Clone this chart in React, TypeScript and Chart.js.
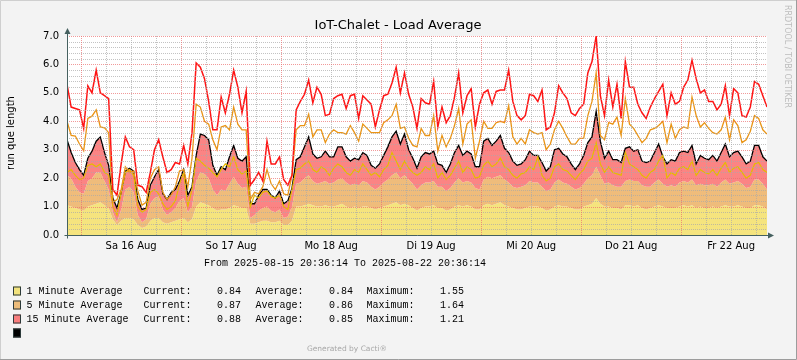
import { useEffect, useRef } from 'react';
import { Chart, registerables } from 'chart.js';

Chart.register(...registerables);

// ---- data (hours since 2025-08-15 20:36:14, one value per hour) ----
const titleText = 'IoT-Chalet - Load Average';
const yAxisTitle = 'run que length';
const firstMidnight = 3.396; // hours from start to 16 Aug 00:00
const xTickLabels = ['Sa 16 Aug', 'So 17 Aug', 'Mo 18 Aug', 'Di 19 Aug', 'Mi 20 Aug', 'Do 21 Aug', 'Fr 22 Aug'];
const legendLabels = ['1 Minute Average', '5 Minute Average', '15 Minute Average'];
const legendCurrent = ['0.84', '0.87', '0.88'];
const legendAverage = ['0.84', '0.86', '0.85'];
const legendMaximum = ['1.55', '1.64', '1.21'];
const fromText = 'From 2025-08-15 20:36:14 To 2025-08-22 20:36:14';

// top of 1-minute area
const yellowArea = [
  1.05, 1.0, 0.95, 0.9, 0.85, 1.0, 1.05, 1.1, 1.15, 1.05,
  0.95, 0.55, 0.35, 0.5, 0.6, 0.6, 0.55, 0.35, 0.25, 0.3,
  0.5, 0.6, 0.6, 0.45, 0.4, 0.45, 0.5, 0.55, 0.6, 0.45,
  0.55, 1.0, 1.15, 1.1, 1.05, 0.95, 0.85, 0.9, 0.9, 0.95,
  1.05, 1.0, 0.95, 0.95, 0.4, 0.4, 0.45, 0.5, 0.5, 0.45,
  0.45, 0.5, 0.35, 0.35, 0.5, 1.0, 1.0, 1.05, 1.1, 1.05,
  1.0, 1.0, 1.05, 1.0, 1.0, 1.05, 1.1, 1.0, 0.95, 1.0,
  0.95, 1.0, 1.0, 0.95, 0.9, 0.95, 1.0, 1.05, 1.1, 1.15,
  1.05, 1.1, 1.05, 0.95, 0.85, 0.95, 1.0, 1.0, 1.05, 0.95,
  0.95, 0.85, 0.9, 1.0, 1.05, 1.0, 1.05, 1.0, 0.9, 0.9,
  1.05, 1.1, 1.05, 1.1, 1.15, 1.05, 1.0, 0.95, 0.9, 0.9,
  0.95, 1.0, 1.0, 1.0, 0.95, 0.85, 0.9, 1.0, 1.05, 1.0,
  1.0, 0.95, 0.9, 0.9, 1.0, 1.05, 1.1, 1.3, 1.1, 1.0,
  1.0, 0.95, 0.95, 0.9, 1.05, 1.05, 1.0, 1.05, 0.95, 0.9,
  0.95, 1.0, 1.05, 1.0, 0.95, 0.95, 0.95, 1.0, 1.05, 1.0,
  1.05, 0.95, 1.0, 0.95, 0.95, 1.0, 0.95, 1.0, 1.05, 1.0,
  1.0, 1.05, 1.0, 0.95, 0.95, 1.05, 1.05, 1.0, 0.9,
];

// top of 5-minute area (stacked)
const orangeArea = [
  2.1, 2.0, 1.7, 1.5, 1.45, 1.9, 2.0, 2.2, 2.2, 1.9,
  1.6, 0.8, 0.45, 0.9, 1.6, 1.7, 1.5, 0.7, 0.45, 0.55,
  1.1, 1.3, 1.35, 0.9, 0.7, 0.8, 0.95, 1.2, 1.3, 0.8,
  1.0, 1.9, 2.2, 2.15, 2.0, 1.6, 1.4, 1.6, 1.55, 1.8,
  2.05, 1.8, 1.65, 1.7, 0.6, 0.7, 0.85, 0.95, 1.0, 0.85,
  0.8, 0.9, 0.6, 0.65, 1.0, 1.8, 1.85, 2.0, 2.1, 1.9,
  1.8, 1.85, 1.9, 1.8, 1.85, 1.95, 2.0, 1.85, 1.75, 1.8,
  1.75, 1.9, 1.85, 1.7, 1.6, 1.7, 1.85, 1.95, 2.1, 2.2,
  2.0, 2.1, 1.95, 1.8, 1.6, 1.75, 1.85, 1.85, 1.9, 1.7,
  1.7, 1.55, 1.65, 1.85, 2.0, 1.85, 1.9, 1.85, 1.65, 1.6,
  1.95, 2.05, 2.0, 2.05, 2.1, 1.95, 1.85, 1.7, 1.65, 1.7,
  1.75, 1.9, 1.85, 1.85, 1.7, 1.55, 1.6, 1.85, 1.95, 1.85,
  1.8, 1.7, 1.6, 1.65, 1.8, 2.0, 2.1, 2.4, 2.1, 1.8,
  1.85, 1.75, 1.7, 1.7, 1.9, 1.95, 1.9, 1.9, 1.75, 1.7,
  1.7, 1.85, 1.95, 1.8, 1.7, 1.75, 1.7, 1.85, 1.9, 1.85,
  1.95, 1.75, 1.8, 1.75, 1.75, 1.8, 1.7, 1.85, 1.95, 1.8,
  1.85, 1.9, 1.8, 1.65, 1.7, 1.95, 1.95, 1.8, 1.6,
];

// top of 15-minute area (stacked total, black outline)
const totalArea = [
  3.35, 2.9, 2.55, 2.3, 2.1, 2.7, 2.95, 3.3, 3.45, 2.9,
  2.45, 1.3, 0.95, 1.5, 2.25, 2.35, 2.25, 1.25, 0.9, 0.95,
  1.75, 2.05, 2.3, 1.45, 1.25, 1.5, 1.6, 1.9, 2.3, 1.4,
  1.7, 2.8, 3.55, 3.5, 3.35, 2.45, 2.1, 2.4, 2.3, 2.75,
  3.15, 2.7, 2.6, 2.75, 1.1, 1.1, 1.4, 1.6, 1.6, 1.4,
  1.3, 1.55, 1.1, 1.2, 1.65, 2.65, 2.75, 3.1, 3.45, 2.85,
  2.7, 2.75, 2.95, 2.75, 2.75, 3.1, 3.1, 2.75, 2.6, 2.7,
  2.65, 2.9, 2.8, 2.45, 2.35, 2.5, 2.8, 3.1, 3.45, 3.65,
  3.2, 3.55, 3.0, 2.7, 2.35, 2.75, 2.9, 2.85, 2.95, 2.5,
  2.45, 2.2, 2.5, 2.9, 3.15, 2.8, 2.95, 2.85, 2.4, 2.4,
  3.3, 3.4, 3.15, 3.3, 3.5, 3.05, 2.9, 2.6, 2.45, 2.5,
  2.65, 2.95, 2.8, 2.8, 2.55, 2.25, 2.4, 3.0, 3.05, 2.85,
  2.75, 2.5, 2.3, 2.5, 2.8, 3.25, 3.45, 4.35, 3.3, 2.7,
  2.95, 2.65, 2.65, 2.55, 3.05, 3.1, 2.95, 3.0, 2.6, 2.55,
  2.6, 2.9, 3.2, 2.75, 2.5, 2.65, 2.6, 2.9, 2.95, 2.9,
  3.15, 2.5, 2.8, 2.7, 2.65, 2.8, 2.6, 2.9, 3.2, 2.75,
  2.9, 2.95, 2.75, 2.5, 2.6, 3.15, 3.15, 2.75, 2.6,
];

const goldLine = [
  2.2, 2.3, 2.1, 1.95, 2.0, 2.45, 2.5, 2.4, 2.5, 2.2,
  2.1, 1.0, 0.7, 1.5, 2.2, 2.3, 2.1, 1.0, 0.8, 0.9,
  1.5, 1.6, 1.45, 1.1, 0.9, 1.0, 1.2, 1.8, 2.2, 1.0,
  1.6, 2.7, 2.6, 2.45, 2.35, 2.2, 2.05, 2.3, 2.5, 2.4,
  2.75, 2.3, 2.15, 2.25, 1.0, 1.4, 1.3, 1.5, 1.55, 1.35,
  1.3, 1.4, 1.0, 0.9, 1.6, 2.3, 2.35, 2.5, 2.6, 2.3,
  2.2, 2.4, 2.3, 2.1, 2.35, 2.5, 2.4, 2.2, 2.1, 2.3,
  2.2, 2.5, 2.3, 2.1, 2.2, 2.05, 2.3, 2.45, 2.9, 2.6,
  2.3, 2.6, 2.35, 2.2, 2.1, 2.2, 2.4, 2.3, 2.5, 2.0,
  2.2, 1.95, 2.1, 2.35, 2.6, 2.2, 2.4, 2.3, 2.0, 2.05,
  2.45, 2.6, 2.4, 2.5, 2.7, 2.4, 2.3, 2.1, 2.0, 2.15,
  2.2, 2.4, 2.3, 2.75, 2.1, 1.9, 2.0, 2.4, 2.5, 2.3,
  2.25, 2.1, 1.95, 2.15, 2.3, 2.6, 2.7, 3.25, 2.5, 2.2,
  2.4, 2.2, 2.15, 2.1, 2.9, 2.5, 2.4, 2.3, 2.1, 2.0,
  2.2, 2.3, 2.6, 2.8, 2.0, 2.2, 2.1, 2.35, 2.4, 2.3,
  2.6, 2.1, 2.3, 2.2, 2.15, 2.3, 2.1, 2.35, 2.55, 2.2,
  2.35, 2.4, 2.2, 2.0, 2.1, 2.5, 2.55, 2.3, 2.2,
];

const orangeLine = [
  4.0, 3.5, 3.48, 3.2, 2.96, 4.1, 4.18, 4.4, 3.8, 3.77,
  3.6, 1.15, 1.25, 1.6, 2.4, 2.2, 2.25, 1.55, 1.05, 1.15,
  2.0, 2.3, 2.4, 1.5, 1.25, 1.4, 1.7, 2.25, 2.3, 1.7,
  2.7, 4.6, 4.5, 4.0, 3.9, 3.35, 3.0, 3.8, 3.85, 3.7,
  4.5, 3.9, 3.7, 3.7, 1.25, 1.5, 1.45, 1.7, 2.3, 1.8,
  1.6, 1.9, 1.45, 1.4, 2.1, 3.7, 3.85, 3.85, 4.25, 3.45,
  3.7, 3.7, 3.25, 3.55, 3.7, 3.6, 3.6, 3.55, 3.85, 3.6,
  3.3, 3.9, 3.75, 3.6, 3.6, 3.6, 3.95, 4.05, 4.2, 4.6,
  3.75, 3.8, 3.4, 3.15, 3.1, 3.75, 3.5, 3.5, 4.2, 2.95,
  3.5, 3.1, 3.4, 3.85, 4.45, 3.2, 3.9, 4.05, 2.7, 3.3,
  4.0, 3.75, 3.75, 3.95, 4.0, 3.95, 4.55, 3.45, 3.2, 3.4,
  3.2, 3.7, 3.6, 3.55, 3.6, 3.0, 3.2, 3.7, 4.0, 3.75,
  3.45, 3.2, 3.2, 3.4, 3.4, 4.2, 4.7, 5.7, 3.5, 3.35,
  3.95, 3.9, 4.15, 3.5, 4.8, 3.9, 3.75, 3.5, 3.25, 3.4,
  3.7, 3.75, 3.85, 4.0, 3.25, 3.9, 3.4, 3.7, 3.8, 3.75,
  4.85, 4.2, 3.8, 3.95, 3.75, 3.6, 3.55, 3.7, 4.15, 3.35,
  4.05, 3.85, 3.25, 3.35, 3.65, 4.2, 4.1, 3.7, 3.55,
];

const redLine = [
  5.3, 4.5, 4.45, 4.4, 3.75, 5.25, 5.0, 5.8, 5.0, 4.9,
  4.8, 1.6, 1.4, 2.5, 3.45, 3.1, 3.0, 1.75, 1.7, 1.5,
  2.2, 3.0, 3.35, 2.75, 2.2, 2.3, 2.55, 2.5, 3.15, 2.5,
  3.6, 6.05, 5.9, 5.5, 4.7, 3.7, 3.7, 4.85, 4.3, 4.95,
  5.8, 5.2, 4.3, 5.05, 1.75, 1.95, 2.2, 1.9, 3.3, 2.5,
  2.5, 2.75, 1.95, 1.75, 2.1, 4.4, 4.7, 4.95, 5.45, 4.65,
  5.2, 4.95, 4.2, 4.25, 4.8, 4.9, 4.95, 4.45, 4.9, 4.95,
  4.1, 4.9, 4.75, 4.6, 3.8, 4.4, 4.9, 4.95, 5.35, 5.9,
  5.0, 5.7, 4.95, 4.5, 3.75, 4.8, 4.65, 4.6, 5.4, 3.8,
  4.5, 3.95, 4.2, 4.85, 5.7, 4.3, 4.9, 5.15, 3.8, 4.6,
  5.0, 5.1, 4.6, 5.05, 5.1, 5.1, 5.8, 4.7, 4.2, 4.05,
  4.2, 4.95, 4.9, 4.7, 5.1, 3.7, 3.8, 4.3, 5.25, 5.0,
  4.8, 4.3, 4.2, 4.45, 4.6, 5.7, 6.1, 7.0, 4.9, 4.2,
  5.45, 4.5, 5.3, 4.1, 6.1, 5.2, 5.2, 4.6, 4.3, 4.1,
  4.5, 4.8, 5.05, 5.3, 4.2, 5.0, 4.6, 4.7, 5.2, 5.45,
  6.15, 5.5, 5.0, 5.1, 4.7, 4.7, 4.4, 4.6, 5.25, 4.2,
  5.15, 5.0, 4.2, 4.15, 4.5, 5.4, 5.3, 4.9, 4.5,
];

const hours = yellowArea.map((_, i) => i);

// grid positions
const xGridValues: number[] = [];
for (let k = 0; firstMidnight + 6 * k <= 168; k++) xGridValues.push(firstMidnight + 6 * k);
const yGridValues: number[] = [];
for (let i = 0; i <= 35; i++) yGridValues.push(Math.round(i * 2) / 10);

const MINOR = 'rgba(170,170,170,0.7)';
const MAJOR = 'rgba(235,110,110,0.7)';
const AXIS = '#45605F';

const isInt = (v: number) => Math.abs(v - Math.round(v)) < 1e-6;
const xIndex = (v: number) => Math.round((v - firstMidnight) / 6);

export default function App() {
  const ref = useRef<HTMLCanvasElement>(null);

  useEffect(() => {
    const canvas = ref.current;
    if (!canvas) return;
    const pts = (arr: number[]) => arr.map((v, i) => ({ x: hours[i], y: v }));

    const decor = {
      id: 'decor',
      beforeDraw(chart: any) {
        const { ctx, chartArea: a } = chart;
        ctx.save();
        ctx.fillStyle = '#F3F3F3';
        ctx.fillRect(0, 0, 797, 360);
        ctx.fillStyle = '#FFFFFF';
        ctx.fillRect(a.left, a.top, a.right - a.left, a.bottom - a.top);
        ctx.restore();
      },
      afterDatasetsDraw(chart: any) {
        // dotted grid drawn over the areas, positioned by the chart's scales
        const { ctx, chartArea: a, scales } = chart;
        const xs = scales.x;
        const ys = scales.y;
        ctx.save();
        ctx.lineWidth = 1;
        ctx.setLineDash([1, 1]);
        const pass = (major: boolean) => {
          ctx.strokeStyle = major ? MAJOR : MINOR;
          ctx.beginPath();
          for (const v of yGridValues) {
            if (isInt(v) !== major || v === 0) continue;
            const py = Math.round(ys.getPixelForValue(v)) + 0.5;
            ctx.moveTo(a.left, py);
            ctx.lineTo(a.right, py);
          }
          for (const v of xGridValues) {
            if ((xIndex(v) % 4 === 0) !== major) continue;
            const px = Math.round(xs.getPixelForValue(v)) + 0.5;
            ctx.moveTo(px, a.top);
            ctx.lineTo(px, a.bottom);
          }
          ctx.stroke();
        };
        pass(false);
        pass(true);
        ctx.restore();
      },
      afterDraw(chart: any) {
        const { ctx, chartArea: a } = chart;
        ctx.save();
        // frame
        ctx.lineWidth = 1;
        ctx.strokeStyle = '#CFCFCF';
        ctx.beginPath();
        ctx.moveTo(0.5, 359); ctx.lineTo(0.5, 0.5); ctx.lineTo(796, 0.5);
        ctx.stroke();
        ctx.strokeStyle = '#9C9C9C';
        ctx.beginPath();
        ctx.moveTo(796.5, 0); ctx.lineTo(796.5, 359.5); ctx.lineTo(0, 359.5);
        ctx.stroke();

        // axes with arrows
        const x0 = Math.round(a.left) + 0.5;
        const y0 = Math.round(a.bottom) + 0.5;
        ctx.strokeStyle = AXIS;
        ctx.fillStyle = AXIS;
        ctx.beginPath();
        ctx.moveTo(x0, y0 + 3); ctx.lineTo(x0, a.top - 4);
        ctx.moveTo(x0 - 3, y0); ctx.lineTo(a.right + 3, y0);
        ctx.stroke();
        ctx.beginPath();
        ctx.moveTo(x0, a.top - 8); ctx.lineTo(x0 - 3, a.top - 2); ctx.lineTo(x0 + 3, a.top - 2); ctx.closePath();
        ctx.fill();
        ctx.beginPath();
        ctx.moveTo(a.right + 7, y0); ctx.lineTo(a.right + 1, y0 - 3); ctx.lineTo(a.right + 1, y0 + 3); ctx.closePath();
        ctx.fill();

        // title
        ctx.fillStyle = '#000';
        ctx.font = '13px "DejaVu Sans"';
        ctx.textAlign = 'center';
        ctx.textBaseline = 'alphabetic';
        ctx.fillText(titleText, 398, 29);

        // y axis title
        ctx.save();
        ctx.translate(11, 133);
        ctx.rotate(-Math.PI / 2);
        ctx.font = '10px "DejaVu Sans"';
        ctx.textBaseline = 'middle';
        ctx.fillStyle = '#000';
        ctx.fillText(yAxisTitle, 0, 0);
        ctx.restore();

        // rrdtool credit
        ctx.save();
        ctx.translate(787, 5);
        ctx.rotate(Math.PI / 2);
        ctx.font = '8px "DejaVu Sans"';
        ctx.textAlign = 'left';
        ctx.textBaseline = 'middle';
        ctx.fillStyle = '#BDBDBD';
        ctx.fillText('RRDTOOL / TOBI OETIKER', 0, 0);
        ctx.restore();

        // from/to line
        ctx.font = '10px "Liberation Mono"';
        ctx.textAlign = 'left';
        ctx.textBaseline = 'middle';
        ctx.fillStyle = '#000';
        ctx.fillText(fromText, 204, 263);

        // legend
        const boxColors = ['#F2E27C', '#EDBC7A', '#F97E7E', '#000000'];
        const rowY = [291, 305, 319, 333];
        for (let i = 0; i < 4; i++) {
          ctx.fillStyle = boxColors[i];
          ctx.fillRect(13, rowY[i] - 4.5, 8, 9);
          ctx.strokeStyle = '#2C3A3A';
          ctx.lineWidth = 1;
          ctx.strokeRect(13.5, rowY[i] - 4, 7, 8);
        }
        ctx.fillStyle = '#000';
        for (let i = 0; i < legendLabels.length; i++) {
          const y = rowY[i];
          ctx.textAlign = 'left';
          ctx.fillText(legendLabels[i], 26.5, y);
          ctx.fillText('Current:', 143.5, y);
          ctx.fillText('Average:', 255.5, y);
          ctx.fillText('Maximum:', 366.5, y);
          ctx.textAlign = 'right';
          ctx.fillText(legendCurrent[i], 241, y);
          ctx.fillText(legendAverage[i], 353, y);
          ctx.fillText(legendMaximum[i], 464, y);
        }

        // footer
        ctx.textAlign = 'center';
        ctx.font = '7.5px "DejaVu Sans"';
        ctx.fillStyle = '#A8A8A8';
        ctx.fillText('Generated by Cacti\u00AE', 347, 349);
        ctx.restore();
      },
    };

    const chart = new Chart(canvas, {
      type: 'line',
      data: {
        datasets: [
          { label: legendLabels[0], data: pts(yellowArea), fill: 'origin', backgroundColor: '#F5E47E', borderColor: 'rgba(0,0,0,0)', borderWidth: 0, pointRadius: 0, order: 6 },
          { label: legendLabels[1], data: pts(orangeArea), fill: '-1', backgroundColor: '#EFBC7B', borderColor: 'rgba(0,0,0,0)', borderWidth: 0, pointRadius: 0, order: 5 },
          { label: legendLabels[2], data: pts(totalArea), fill: '-1', backgroundColor: '#FB8484', borderColor: '#000000', borderWidth: 1.3, pointRadius: 0, order: 4 },
          { label: '1 Minute Max', data: pts(goldLine), fill: false, borderColor: '#E6BA00', borderWidth: 1.2, pointRadius: 0, order: 3 },
          { label: '5 Minute Max', data: pts(orangeLine), fill: false, borderColor: '#EA9414', borderWidth: 1.3, pointRadius: 0, order: 2 },
          { label: '15 Minute Max', data: pts(redLine), fill: false, borderColor: '#FF1414', borderWidth: 1.5, pointRadius: 0, order: 1 },
        ],
      } as any,
      options: {
        responsive: false,
        animation: false,
        devicePixelRatio: 1,
        events: [],
        layout: { padding: { left: 0, top: 36, right: 30, bottom: 105 } },
        elements: { line: { tension: 0 }, point: { radius: 0 } },
        plugins: {
          legend: { display: false },
          tooltip: { enabled: false },
          title: { display: false },
        },
        scales: {
          x: {
            type: 'linear',
            min: 0,
            max: 168,
            afterBuildTicks: (s: any) => { s.ticks = xGridValues.map((v) => ({ value: v })); },
            afterFit: (s: any) => { s.height = 20; },
            ticks: {
              autoSkip: false,
              maxRotation: 0,
              minRotation: 0,
              padding: 5,
              color: '#000',
              font: { family: 'DejaVu Sans', size: 10 },
              callback: (v: any) => {
                const k = xIndex(Number(v));
                return k % 4 === 2 ? xTickLabels[(k - 2) / 4] ?? '' : '';
              },
            },
            grid: { display: false, drawTicks: false },
            border: { display: false },
          },
          y: {
            type: 'linear',
            min: 0,
            max: 7,
            afterBuildTicks: (s: any) => { s.ticks = yGridValues.map((v) => ({ value: v })); },
            afterFit: (s: any) => { s.width = 67; },
            ticks: {
              autoSkip: false,
              padding: 8,
              color: '#000',
              font: { family: 'DejaVu Sans', size: 10 },
              callback: (v: any) => (isInt(Number(v)) ? Number(v).toFixed(1) : ''),
            },
            grid: { display: false, drawTicks: false },
            border: { display: false },
          },
        },
      } as any,
      plugins: [decor],
    });
    return () => chart.destroy();
  }, []);

  return (
    <div style={{ position: 'fixed', left: 0, top: 0, width: 797, height: 360 }}>
      <canvas ref={ref} width={797} height={360} style={{ width: 797, height: 360, display: 'block' }} />
    </div>
  );
}
